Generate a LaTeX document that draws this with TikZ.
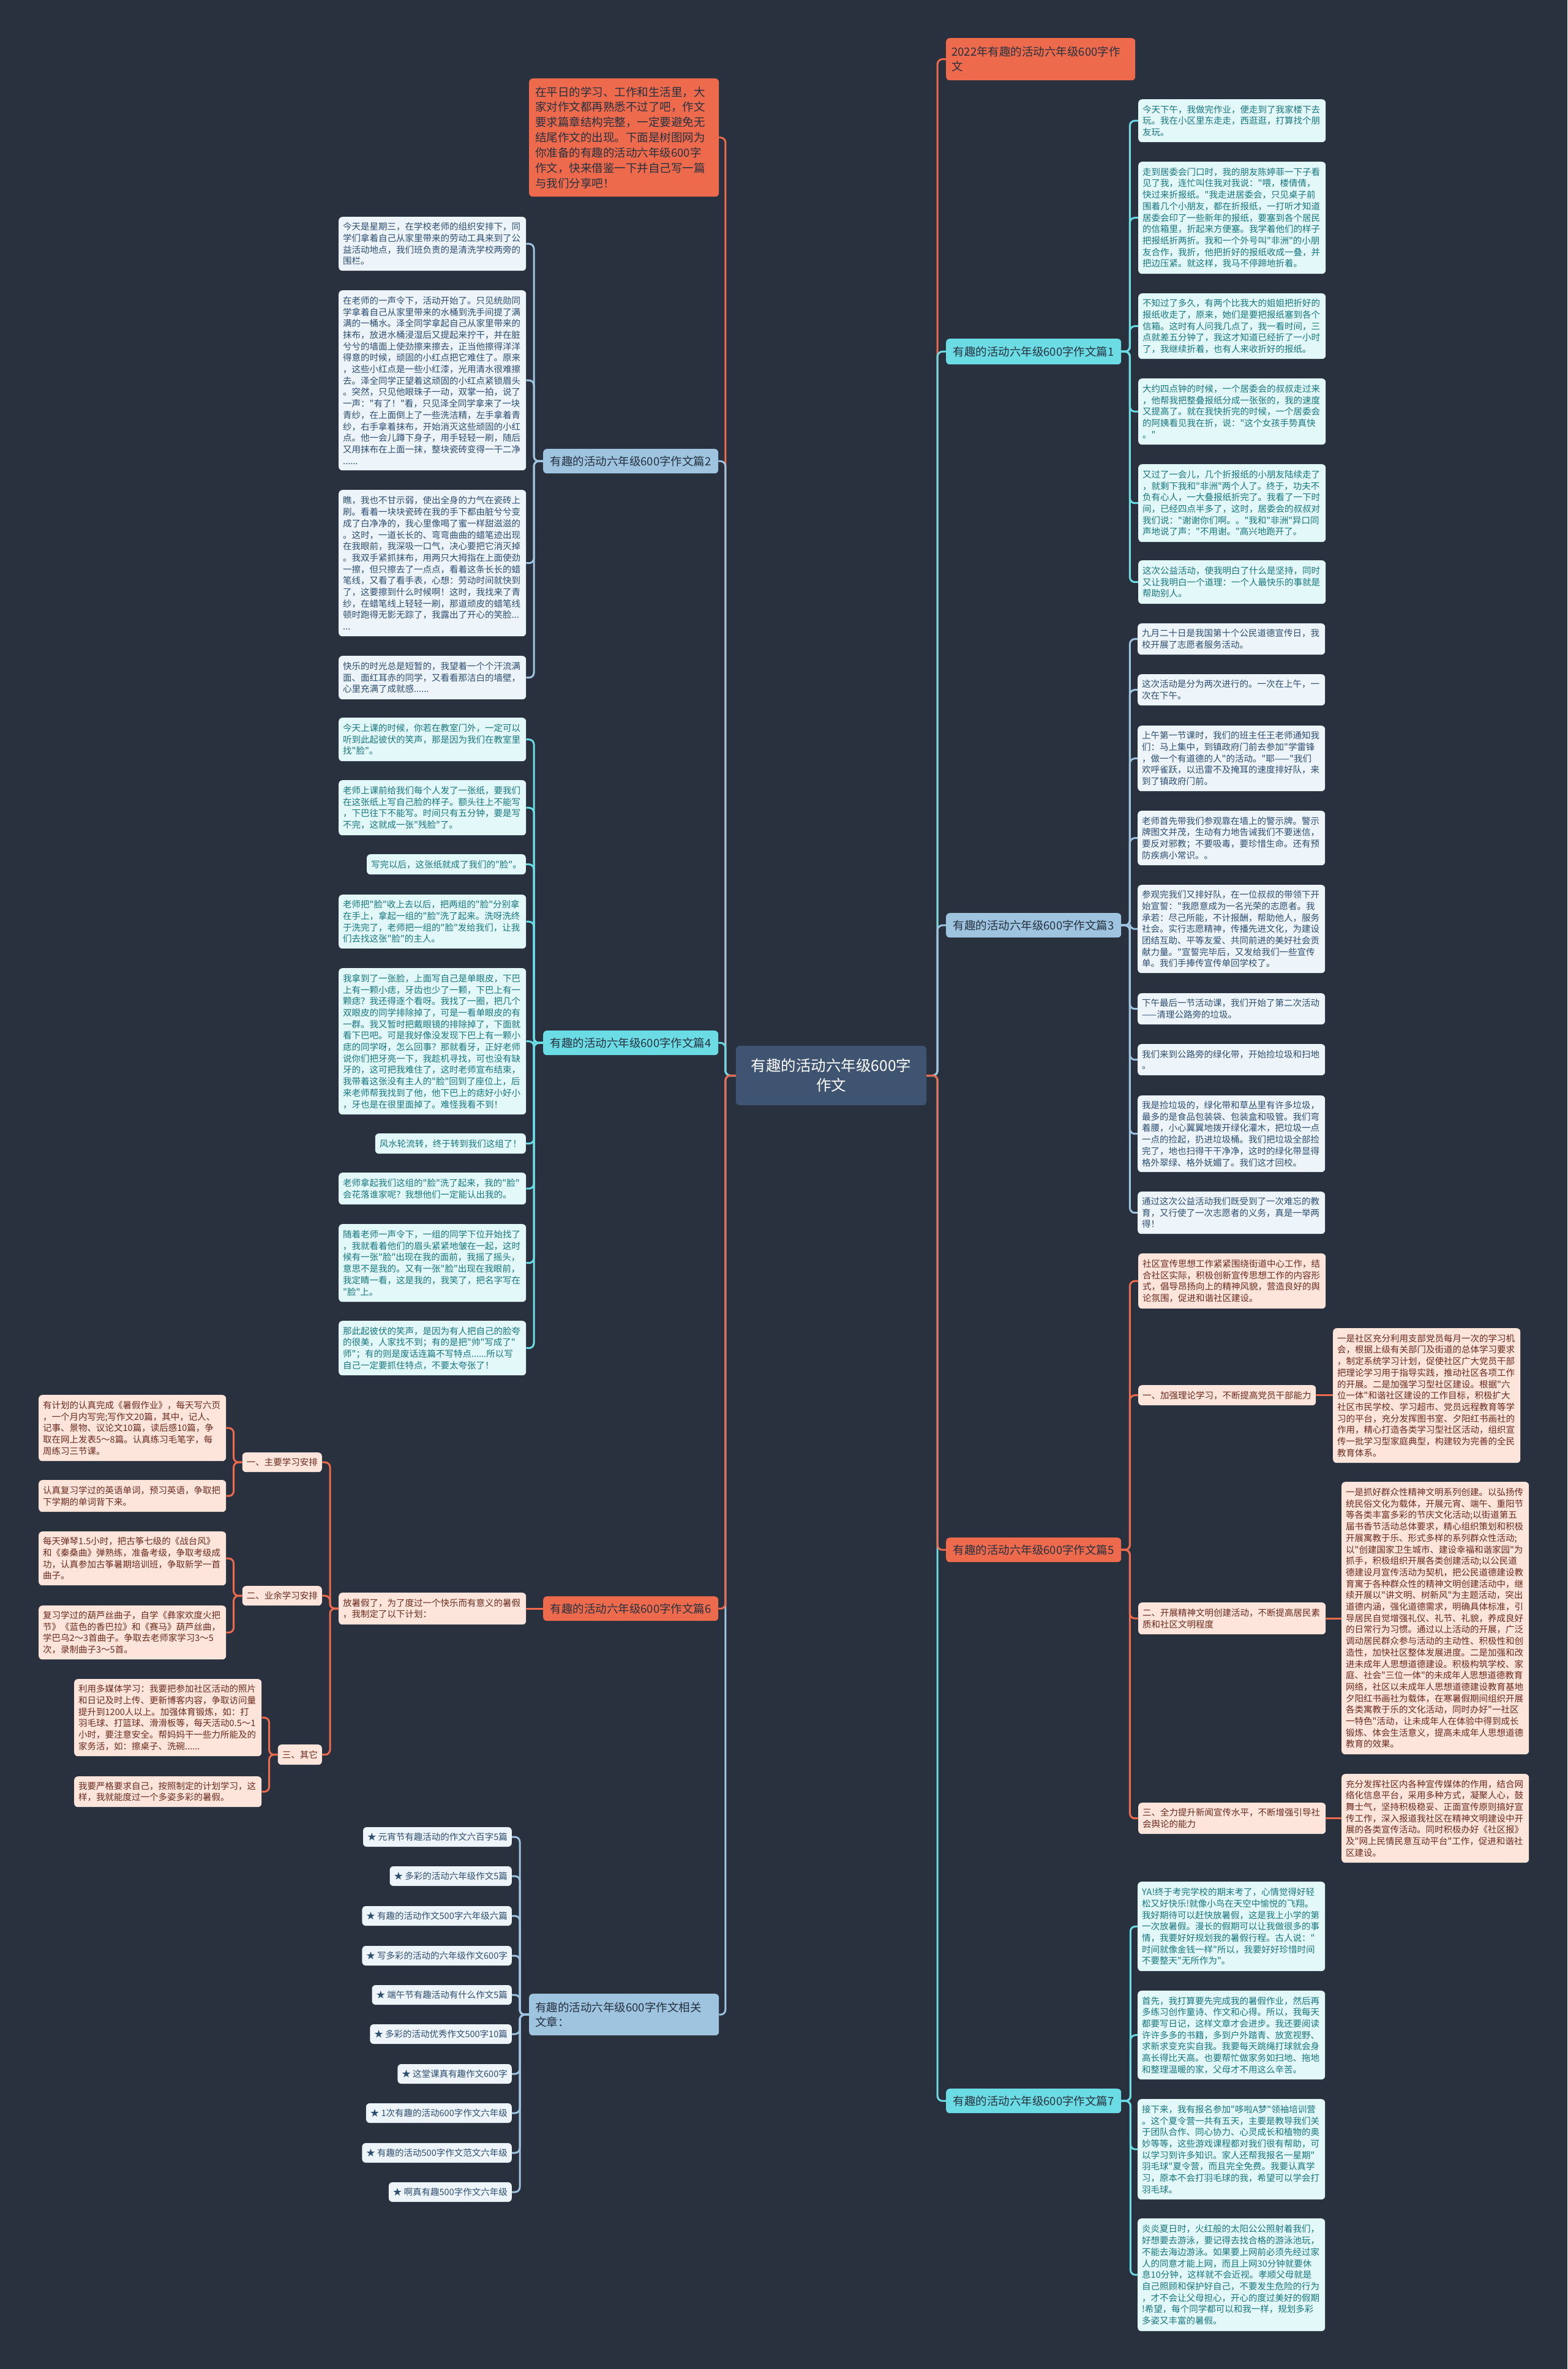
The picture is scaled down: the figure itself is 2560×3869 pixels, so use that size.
\documentclass[tikz,border=0pt]{standalone}
\usepackage{fontspec}
\newfontfamily\cjk{Noto Sans CJK SC}[Ligatures=TeXOff]
\definecolor{bg}{HTML}{29313F}
\definecolor{cnode}{HTML}{3E5470}
\definecolor{lblue}{HTML}{9EC4E0}
\definecolor{lcyan}{HTML}{6BDCE4}
\definecolor{lred}{HTML}{EE6A4C}
\definecolor{fblue}{HTML}{EDF4FA}
\definecolor{fcyan}{HTML}{E3F8F9}
\definecolor{fred}{HTML}{FDE5DC}
\definecolor{tblue}{HTML}{2E4E70}
\definecolor{tcyan}{HTML}{17767E}
\definecolor{tred}{HTML}{6B2A1E}
\definecolor{tlab}{HTML}{26313F}
\begin{document}
\begin{tikzpicture}[x=1pt,y=-1pt,
  tb/.style={anchor=north west, rounded corners=6pt, inner xsep=7pt, inner ysep=0pt, align=left, text width=292pt, font=\cjk\fontsize{14.5}{18.7}\selectfont},
  bb/.style={tb, fill=fblue, text=tblue},
  cb/.style={tb, fill=fcyan, text=tcyan},
  rb/.style={tb, fill=fred, text=tred},
  ts/.style={anchor=north east, rounded corners=6pt, inner xsep=7pt, inner ysep=0pt, minimum height=33pt, font=\cjk\fontsize{14.5}{18.7}\selectfont},
  lab/.style={anchor=north west, rounded corners=6pt, inner sep=0pt, minimum width=286pt, minimum height=40pt, font=\cjk\fontsize{18.5}{24}\selectfont, text=tlab},
  big/.style={anchor=north west, rounded corners=6pt, inner xsep=10pt, inner ysep=0pt, text width=290pt, align=left, text=tlab},
  cn/.style={fill=cnode, text=white, rounded corners=6pt, minimum width=311pt, minimum height=97pt, align=center, inner sep=0pt, font=\cjk\fontsize{24.5}{32}\selectfont},
  LB/.style={draw=lblue, line width=3pt, rounded corners=8pt},
  LC/.style={draw=lcyan, line width=3pt, rounded corners=8pt},
  LR/.style={draw=lred, line width=3pt, rounded corners=8pt}
]
\fill[bg] (0,0) rectangle (2560,3869);
\useasboundingbox (0,0) rectangle (2560,3869);

% ---------------- center
\node[cn] (c) at (1357.5,1756.5) {有趣的活动六年级600字\\作文};

% ---------------- left side
\node[big, fill=lred, minimum height=193pt, font=\cjk\fontsize{18.5}{24.9}\selectfont] (intro) at (864,128) {在平日的学习、工作和生活里，大\\家对作文都再熟悉不过了吧，作文\\要求篇章结构完整，一定要避免无\\结尾作文的出现。下面是树图网为\\你准备的有趣的活动六年级600字\\作文，快来借鉴一下并自己写一篇\\与我们分享吧！};

\node[lab, fill=lblue] (b2) at (887,733) {有趣的活动六年级600字作文篇2};
\node[bb, minimum height=88pt] (b2a) at (553,354) {今天是星期三，在学校老师的组织安排下，同\\学们拿着自己从家里带来的劳动工具来到了公\\益活动地点，我们班负责的是清洗学校两旁的\\围栏。};
\node[bb, minimum height=294pt] (b2b) at (553,474) {在老师的一声令下，活动开始了。只见统勋同\\学拿着自己从家里带来的水桶到洗手间提了满\\满的一桶水。泽全同学拿起自己从家里带来的\\抹布，放进水桶浸湿后又提起来拧干，并在脏\\兮兮的墙面上使劲擦来擦去，正当他擦得洋洋\\得意的时候，顽固的小红点把它难住了。原来\\，这些小红点是一些小红漆，光用清水很难擦\\去。泽全同学正望着这顽固的小红点紧锁眉头\\。突然，只见他眼珠子一动，双掌一拍，说了\\一声："有了！"看，只见泽全同学拿来了一块\\青纱，在上面倒上了一些洗洁精，左手拿着青\\纱，右手拿着抹布，开始消灭这些顽固的小红\\点。他一会儿蹲下身子，用手轻轻一刷，随后\\又用抹布在上面一抹，整块瓷砖变得一干二净\\......};
\node[bb, minimum height=239pt] (b2c) at (553,800) {瞧，我也不甘示弱，使出全身的力气在瓷砖上\\刷。看着一块块瓷砖在我的手下都由脏兮兮变\\成了白净净的，我心里像喝了蜜一样甜滋滋的\\。这时，一道长长的、弯弯曲曲的蜡笔迹出现\\在我眼前，我深吸一口气，决心要把它消灭掉\\。我双手紧抓抹布，用两只大拇指在上面使劲\\一擦，但只擦去了一点点，看着这条长长的蜡\\笔线，又看了看手表，心想：劳动时间就快到\\了，这要擦到什么时候啊！这时，我找来了青\\纱，在蜡笔线上轻轻一刷，那道顽皮的蜡笔线\\顿时跑得无影无踪了，我露出了开心的笑脸...\\...};
\node[bb, minimum height=71pt] (b2d) at (553,1071) {快乐的时光总是短暂的，我望着一个个汗流满\\面、面红耳赤的同学，又看看那洁白的墙壁，\\心里充满了成就感......};

\node[lab, fill=lcyan] (b4) at (887,1683) {有趣的活动六年级600字作文篇4};
\node[cb, minimum height=71pt] (b4a) at (553,1172) {今天上课的时候，你若在教室门外，一定可以\\听到此起彼伏的笑声，那是因为我们在教室里\\找"脸"。};
\node[cb, minimum height=90pt] (b4b) at (553,1274) {老师上课前给我们每个人发了一张纸，要我们\\在这张纸上写自己脸的样子。额头往上不能写\\，下巴往下不能写。时间只有五分钟，要是写\\不完，这就成一张"残脸"了。};
\node[ts, fill=fcyan, text=tcyan] (b4c) at (859,1395) {写完以后，这张纸就成了我们的"脸"。};
\node[cb, minimum height=88pt] (b4d) at (553,1461) {老师把"脸"收上去以后，把两组的"脸"分别拿\\在手上，拿起一组的"脸"洗了起来。洗呀洗终\\于洗完了，老师把一组的"脸"发给我们，让我\\们去找这张"脸"的主人。};
\node[cb, minimum height=239pt] (b4e) at (553,1581) {我拿到了一张脸，上面写自己是单眼皮，下巴\\上有一颗小痣，牙齿也少了一颗，下巴上有一\\颗痣？我还得逐个看呀。我找了一圈，把几个\\双眼皮的同学排除掉了，可是一看单眼皮的有\\一群。我又暂时把戴眼镜的排除掉了，下面就\\看下巴吧。可是我好像没发现下巴上有一颗小\\痣的同学呀，怎么回事？那就看牙，正好老师\\说你们把牙亮一下，我趁机寻找，可也没有缺\\牙的，这可把我难住了，这时老师宣布结束，\\我带着这张没有主人的"脸"回到了座位上，后\\来老师帮我找到了他，他下巴上的痣好小好小\\，牙也是在很里面掉了。难怪我看不到！};
\node[ts, fill=fcyan, text=tcyan] (b4f) at (859,1851) {风水轮流转，终于转到我们这组了！};
\node[cb, minimum height=52pt] (b4g) at (553,1915) {老师拿起我们这组的"脸"洗了起来，我的"脸"\\会花落谁家呢？我想他们一定能认出我的。};
\node[cb, minimum height=127pt] (b4h) at (553,1999) {随着老师一声令下，一组的同学下位开始找了\\，我就看着他们的眉头紧紧地皱在一起，这时\\候有一张"脸"出现在我的面前，我摇了摇头，\\意思不是我的。又有一张"脸"出现在我眼前，\\我定睛一看，这是我的，我笑了，把名字写在\\"脸"上。};
\node[cb, minimum height=89pt] (b4i) at (553,2157) {那此起彼伏的笑声，是因为有人把自己的脸夸\\的很美，人家找不到；有的是把"帅"写成了"\\师"；有的则是废话连篇不写特点......所以写\\自己一定要抓住特点，不要太夸张了！};

\node[lab, fill=lred] (b6) at (887,2607) {有趣的活动六年级600字作文篇6};
\node[rb, minimum height=52pt] (p6) at (553,2601) {放暑假了，为了度过一个快乐而有意义的暑假\\，我制定了以下计划：};
\node[ts, fill=fred, text=tred, minimum height=32pt] (s1) at (526,2372) {一、主要学习安排};
\node[ts, fill=fred, text=tred, minimum height=32pt] (s2) at (526,2590) {二、业余学习安排};
\node[ts, fill=fred, text=tred, minimum height=33pt] (s3) at (526,2849) {三、其它};
\node[rb, minimum height=108pt] (t1a) at (63,2278) {有计划的认真完成《暑假作业》，每天写六页\\，一个月内写完;写作文20篇，其中，记人、\\记事、景物、议论文10篇，读后感10篇，争\\取在网上发表5～8篇。认真练习毛笔字，每\\周练习三节课。};
\node[rb, minimum height=52pt] (t1b) at (63,2417) {认真复习学过的英语单词，预习英语，争取把\\下学期的单词背下来。};
\node[rb, minimum height=88pt] (t2a) at (63,2501) {每天弹琴1.5小时，把古筝七级的《战台风》\\和《秦桑曲》弹熟练，准备考级，争取考级成\\功，认真参加古筝暑期培训班，争取新学一首\\曲子。};
\node[rb, minimum height=88pt] (t2b) at (63,2622) {复习学过的葫芦丝曲子，自学《彝家欢度火把\\节》《蓝色的香巴拉》和《赛马》葫芦丝曲，\\学巴乌2～3首曲子。争取去老师家学习3～5\\次，录制曲子3～5首。};
\node[rb, minimum height=126pt] (t3a) at (121,2742) {利用多媒体学习：我要把参加社区活动的照片\\和日记及时上传、更新博客内容，争取访问量\\提升到1200人以上。加强体育锻炼，如：打\\羽毛球、打篮球、滑滑板等，每天活动0.5～1\\小时，要注意安全。帮妈妈干一些力所能及的\\家务活，如：擦桌子、洗碗......};
\node[rb, minimum height=50pt] (t3b) at (121,2901) {我要严格要求自己，按照制定的计划学习，这\\样，我就能度过一个多姿多彩的暑假。};

\node[big, fill=lblue, minimum height=68pt, font=\cjk\fontsize{18.5}{24}\selectfont] (rel) at (864,3256) {有趣的活动六年级600字作文相关\\文章：};
\begin{scope}[every node/.style={ts, fill=fblue, text=tblue, anchor=east, minimum height=32pt}]
\node (r1) at (836,3000) {★ 元宵节有趣活动的作文六百字5篇};
\node (r2) at (836,3064) {★ 多彩的活动六年级作文5篇};
\node (r3) at (836,3129) {★ 有趣的活动作文500字六年级六篇};
\node (r4) at (836,3194) {★ 写多彩的活动的六年级作文600字};
\node (r5) at (836,3258) {★ 端午节有趣活动有什么作文5篇};
\node (r6) at (836,3322) {★ 多彩的活动优秀作文500字10篇};
\node (r7) at (836,3387) {★ 这堂课真有趣作文600字};
\node (r8) at (836,3451) {★ 1次有趣的活动600字作文六年级};
\node (r9) at (836,3516) {★ 有趣的活动500字作文范文六年级};
\node (r10) at (836,3580) {★ 啊真有趣500字作文六年级};
\end{scope}

% ---------------- right side
\node[big, fill=lred, minimum height=69pt, font=\cjk\fontsize{18.5}{24.2}\selectfont, inner xsep=9pt, text width=291pt] (title) at (1545,62) {2022年有趣的活动六年级600字作\\文};

\node[lab, fill=lcyan, minimum height=42pt] (b1) at (1545,553) {有趣的活动六年级600字作文篇1};
\node[cb, minimum height=70pt] (b1a) at (1859,162) {今天下午，我做完作业，便走到了我家楼下去\\玩。我在小区里东走走，西逛逛，打算找个朋\\友玩。};
\node[cb, minimum height=183pt] (b1b) at (1859,264) {走到居委会门口时，我的朋友陈婷菲一下子看\\见了我，连忙叫住我对我说："喂，楼倩倩，\\快过来折报纸。"我走进居委会，只见桌子前\\围着几个小朋友，都在折报纸，一打听才知道\\居委会印了一些新年的报纸，要塞到各个居民\\的信箱里，折起来方便塞。我学着他们的样子\\把报纸折两折。我和一个外号叫"非洲"的小朋\\友合作，我折，他把折好的报纸收成一叠，并\\把边压紧。就这样，我马不停蹄地折着。};
\node[cb, minimum height=107pt] (b1c) at (1859,479) {不知过了多久，有两个比我大的姐姐把折好的\\报纸收走了，原来，她们是要把报纸塞到各个\\信箱。这时有人问我几点了，我一看时间，三\\点就差五分钟了，我这才知道已经折了一小时\\了，我继续折着，也有人来收折好的报纸。};
\node[cb, minimum height=108pt] (b1d) at (1859,618) {大约四点钟的时候，一个居委会的叔叔走过来\\，他帮我把整叠报纸分成一张张的，我的速度\\又提高了。就在我快折完的时候，一个居委会\\的阿姨看见我在折，说："这个女孩手势真快\\。"};
\node[cb, minimum height=127pt] (b1e) at (1859,758) {又过了一会儿，几个折报纸的小朋友陆续走了\\，就剩下我和"非洲"两个人了。终于，功夫不\\负有心人，一大叠报纸折完了。我看了一下时\\间，已经四点半多了，这时，居委会的叔叔对\\我们说："谢谢你们啊。。"我和"非洲"异口同\\声地说了声："不用谢。"高兴地跑开了。};
\node[cb, minimum height=71pt] (b1f) at (1859,915) {这次公益活动，使我明白了什么是坚持，同时\\又让我明白一个道理：一个人最快乐的事就是\\帮助别人。};

\node[lab, fill=lblue] (b3) at (1545,1491) {有趣的活动六年级600字作文篇3};
\node[bb, minimum height=51pt] (b3a) at (1858,1018) {九月二十日是我国第十个公民道德宣传日，我\\校开展了志愿者服务活动。};
\node[bb, minimum height=51pt] (b3b) at (1858,1101) {这次活动是分为两次进行的。一次在上午，一\\次在下午。};
\node[bb, minimum height=107pt] (b3c) at (1858,1185) {上午第一节课时，我们的班主任王老师通知我\\们：马上集中，到镇政府门前去参加"学雷锋\\，做一个有道德的人"的活动。"耶——"我们\\欢呼雀跃，以迅雷不及掩耳的速度排好队，来\\到了镇政府门前。};
\node[bb, minimum height=89pt] (b3d) at (1858,1324) {老师首先带我们参观靠在墙上的警示牌。警示\\牌图文并茂，生动有力地告诫我们不要迷信，\\要反对邪教；不要吸毒，要珍惜生命。还有预\\防疾病小常识。。};
\node[bb, minimum height=144pt] (b3e) at (1858,1445) {参观完我们又排好队，在一位叔叔的带领下开\\始宣誓："我愿意成为一名光荣的志愿者。我\\承若：尽己所能，不计报酬，帮助他人，服务\\社会。实行志愿精神，传播先进文化，为建设\\团结互助、平等友爱、共同前进的美好社会贡\\献力量。"宣誓完毕后，又发给我们一些宣传\\单。我们手捧传宣传单回学校了。};
\node[bb, minimum height=51pt] (b3f) at (1858,1622) {下午最后一节活动课，我们开始了第二次活动\\——清理公路旁的垃圾。};
\node[bb, minimum height=51pt] (b3g) at (1858,1705) {我们来到公路旁的绿化带，开始捡垃圾和扫地\\。};
\node[bb, minimum height=125pt] (b3h) at (1858,1789) {我是捡垃圾的，绿化带和草丛里有许多垃圾，\\最多的是食品包装袋、包装盒和吸管。我们弯\\着腰，小心翼翼地拨开绿化灌木，把垃圾一点\\一点的捡起，扔进垃圾桶。我们把垃圾全部捡\\完了，地也扫得干干净净，这时的绿化带显得\\格外翠绿、格外妩媚了。我们这才回校。};
\node[bb, minimum height=69pt] (b3i) at (1858,1946) {通过这次公益活动我们既受到了一次难忘的教\\育，又行使了一次志愿者的义务，真是一举两\\得！};

\node[lab, fill=lred] (b5) at (1545,2511) {有趣的活动六年级600字作文篇5};
\node[rb, minimum height=90pt] (b5a) at (1859,2047) {社区宣传思想工作紧紧围绕街道中心工作，结\\合社区实际，积极创新宣传思想工作的内容形\\式，倡导昂扬向上的精神风貌，营造良好的舆\\论氛围，促进和谐社区建设。};
\node[rb, minimum height=33pt, text width=276pt] (b5b) at (1859,2262) {一、加强理论学习，不断提高党员干部能力};
\node[rb, minimum height=220pt] (b5bc) at (2177,2169) {一是社区充分利用支部党员每月一次的学习机\\会，根据上级有关部门及街道的总体学习要求\\，制定系统学习计划，促使社区广大党员干部\\把理论学习用于指导实践，推动社区各项工作\\的开展。二是加强学习型社区建设。根据"六\\位一体"和谐社区建设的工作目标，积极扩大\\社区市民学校、学习超市、党员远程教育等学\\习的平台，充分发挥图书室、夕阳红书画社的\\作用，精心打造各类学习型社区活动，组织宣\\传一批学习型家庭典型，构建较为完善的全民\\教育体系。};
\node[rb, minimum height=52pt] (b5c) at (1859,2617) {二、开展精神文明创建活动，不断提高居民素\\质和社区文明程度};
\node[rb, minimum height=445pt] (b5cc) at (2191,2420) {一是抓好群众性精神文明系列创建。以弘扬传\\统民俗文化为载体，开展元宵、端午、重阳节\\等各类丰富多彩的节庆文化活动;以街道第五\\届书香节活动总体要求，精心组织策划和积极\\开展寓教于乐、形式多样的系列群众性活动;\\以"创建国家卫生城市、建设幸福和谐家园"为\\抓手，积极组织开展各类创建活动;以公民道\\德建设月宣传活动为契机，把公民道德建设教\\育寓于各种群众性的精神文明创建活动中，继\\续开展以"讲文明、树新风"为主题活动，突出\\道德内涵，强化道德需求，明确具体标准，引\\导居民自觉增强礼仪、礼节、礼貌，养成良好\\的日常行为习惯。通过以上活动的开展，广泛\\调动居民群众参与活动的主动性、积极性和创\\造性，加快社区整体发展进度。二是加强和改\\进未成年人思想道德建设。积极构筑学校、家\\庭、社会"三位一体"的未成年人思想道德教育\\网络，社区以未成年人思想道德建设教育基地\\夕阳红书画社为载体，在寒暑假期间组织开展\\各类寓教于乐的文化活动，同时办好"一社区\\一特色"活动，让未成年人在体验中得到成长\\锻炼、体会生活意义，提高未成年人思想道德\\教育的效果。};
\node[rb, minimum height=51pt] (b5d) at (1859,2944) {三、全力提升新闻宣传水平，不断增强引导社\\会舆论的能力};
\node[rb, minimum height=145pt] (b5dc) at (2191,2897) {充分发挥社区内各种宣传媒体的作用，结合网\\络化信息平台，采用多种方式，凝聚人心，鼓\\舞士气，坚持积极稳妥、正面宣传原则搞好宣\\传工作，深入报道我社区在精神文明建设中开\\展的各类宣传活动。同时积极办好《社区报》\\及"网上民情民意互动平台"工作，促进和谐社\\区建设。};

\node[lab, fill=lcyan] (b7) at (1545,3411) {有趣的活动六年级600字作文篇7};
\node[cb, minimum height=146pt] (b7a) at (1858,3073) {YA!终于考完学校的期末考了，心情觉得好轻\\松又好快乐!就像小鸟在天空中愉悦的飞翔。\\我好期待可以赶快放暑假，这是我上小学的第\\一次放暑假。漫长的假期可以让我做很多的事\\情，我要好好规划我的暑假行程。古人说："\\时间就像金钱一样"所以，我要好好珍惜时间\\不要整天"无所作为"。};
\node[cb, minimum height=145pt] (b7b) at (1858,3251) {首先，我打算要先完成我的暑假作业，然后再\\多练习创作童诗、作文和心得。所以，我每天\\都要写日记，这样文章才会进步。我还要阅读\\许许多多的书籍，多到户外踏青、放宽视野、\\求新求变充实自我。我要每天跳绳打球就会身\\高长得比天高。也要帮忙做家务如扫地、拖地\\和整理温暖的家，父母才不用这么辛苦。};
\node[cb, minimum height=164pt] (b7c) at (1858,3428) {接下来，我有报名参加"哆啦A梦"领袖培训营\\。这个夏令营一共有五天，主要是教导我们关\\于团队合作、同心协力、心灵成长和植物的奥\\妙等等，这些游戏课程都对我们很有帮助，可\\以学习到许多知识。家人还帮我报名一星期"\\羽毛球"夏令营，而且完全免费。我要认真学\\习，原本不会打羽毛球的我，希望可以学会打\\羽毛球。};
\node[cb, minimum height=184pt] (b7d) at (1858,3623) {炎炎夏日时，火红般的太阳公公照射着我们，\\好想要去游泳，要记得去找合格的游泳池玩，\\不能去海边游泳。如果要上网前必须先经过家\\人的同意才能上网，而且上网30分钟就要休\\息10分钟，这样就不会近视。孝顺父母就是\\自己照顾和保护好自己，不要发生危险的行为\\，才不会让父母担心，开心的度过美好的假期\\!希望，每个同学都可以和我一样，规划多彩\\多姿又丰富的暑假。};

% ---------------- connectors (behind nodes)
\begin{scope}[on background layer/.try]
\end{scope}
\begin{pgfonlayer}{main}\end{pgfonlayer}

% left trunk: farthest first
\draw[LR] (c.west) -- ++(-17,0) |- (intro.east);
\draw[LB] (c.west) -- ++(-17,0) |- (b2.east);
\draw[LC] (c.west) -- ++(-17,0) |- (b4.east);
\draw[LB] (c.west) -- ++(-17,0) |- (rel.east);
\draw[LR] (c.west) -- ++(-17,0) |- (b6.east);
% right trunk
\draw[LR] (c.east) -- ++(18,0) |- (title.west);
\draw[LC] (c.east) -- ++(18,0) |- (b1.west);
\draw[LB] (c.east) -- ++(18,0) |- (b3.west);
\draw[LC] (c.east) -- ++(18,0) |- (b7.west);
\draw[LR] (c.east) -- ++(18,0) |- (b5.west);

\foreach \n in {b2a,b2b,b2c,b2d} \draw[LB] (b2.west) -- ++(-15,0) |- (\n.east);
\foreach \n in {b4a,b4b,b4c,b4d,b4e,b4f,b4g,b4h,b4i} \draw[LC] (b4.west) -- ++(-15,0) |- (\n.east);
\draw[LR] (b6.west) -- (p6.east);
\foreach \n in {s1,s2,s3} \draw[LR] (p6.west) -- ++(-14,0) |- (\n.east);
\foreach \n in {t1a,t1b} \draw[LR] (s1.west) -- ++(-14,0) |- (\n.east);
\foreach \n in {t2a,t2b} \draw[LR] (s2.west) -- ++(-14,0) |- (\n.east);
\foreach \n in {t3a,t3b} \draw[LR] (s3.west) -- ++(-14,0) |- (\n.east);
\foreach \n in {r1,r2,r3,r4,r5,r6,r7,r8,r9,r10} \draw[LB] (rel.west) -- ++(-15,0) |- (\n.east);

\foreach \n in {b1a,b1b,b1c,b1d,b1e,b1f} \draw[LC] (b1.east) -- ++(14,0) |- (\n.west);
\foreach \n in {b3a,b3b,b3c,b3d,b3e,b3f,b3g,b3h,b3i} \draw[LB] (b3.east) -- ++(14,0) |- (\n.west);
\foreach \n in {b5a,b5b,b5c,b5d} \draw[LR] (b5.east) -- ++(14,0) |- (\n.west);
\draw[LR] (b5b.east) -- (b5bc.west |- b5b.east);
\draw[LR] (b5c.east) -- (b5cc.west |- b5c.east);
\draw[LR] (b5d.east) -- (b5dc.west |- b5d.east);
\foreach \n in {b7a,b7b,b7c,b7d} \draw[LC] (b7.east) -- ++(15,0) |- (\n.west);
\end{tikzpicture}
\end{document}
